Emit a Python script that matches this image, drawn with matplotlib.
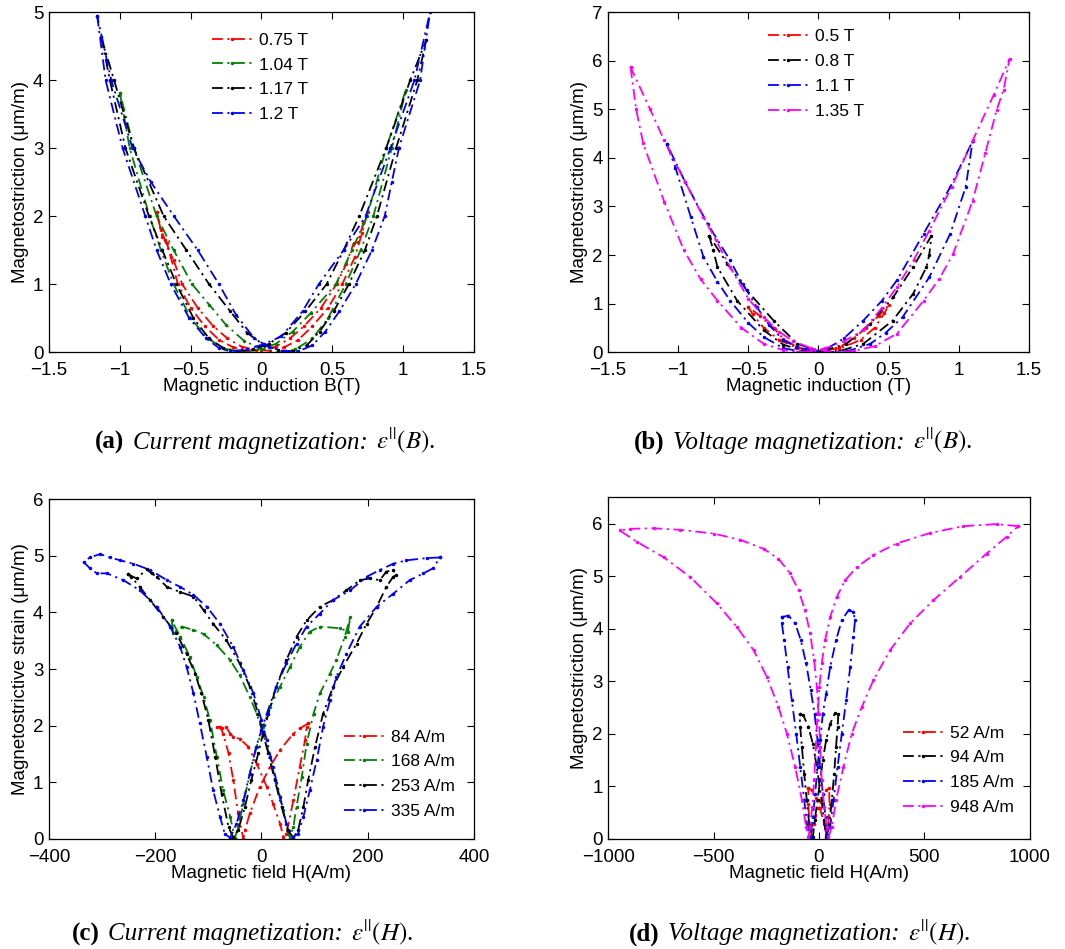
import matplotlib
matplotlib.use("Agg")
import matplotlib.pyplot as plt
from matplotlib.offsetbox import TextArea, HPacker, AnchoredOffsetbox

plt.rcParams['font.family'] = ['Liberation Sans', 'DejaVu Sans']
plt.rcParams['mathtext.fontset'] = 'stix'

# ---------------- (a) current magnetization, strain vs B ----------------
a_labels = ['0.75 T', '1.04 T', '1.17 T', '1.2 T']
a_B_075 = [-0.74, -0.71, -0.68, -0.64, -0.59, -0.5, -0.4, -0.3, -0.2, -0.1, 0.0, 0.1, 0.2, 0.3, 0.42, 0.53, 0.6, 0.65, 0.68, 0.72, 0.75,
           0.71, 0.66, 0.57, 0.47, 0.36, 0.26, 0.16, 0.06, -0.04, -0.14, -0.24, -0.34, -0.45, -0.56, -0.62, -0.67, -0.70, -0.74]
a_e_075 = [2.06, 1.8, 1.65, 1.4, 1.0, 0.65, 0.38, 0.18, 0.07, 0.02, 0.03, 0.08, 0.2, 0.38, 0.65, 1.0, 1.3, 1.6, 1.62, 1.9, 2.06,
           1.75, 1.4, 1.0, 0.65, 0.38, 0.18, 0.07, 0.02, 0.03, 0.08, 0.2, 0.38, 0.65, 1.0, 1.35, 1.6, 1.7, 2.06]
a_B_104 = [-1.0, -0.93, -0.79, -0.71, -0.62, -0.5, -0.38, -0.26, -0.12, 0.0, 0.1, 0.22, 0.35, 0.525, 0.64, 0.745, 0.88, 1.02,
           0.92, 0.79, 0.70, 0.595, 0.47, 0.36, 0.24, 0.12, 0.0, -0.12, -0.25, -0.37, -0.49, -0.62, -0.74, -0.9, -1.0]
a_e_104 = [3.82, 3.0, 2.0, 1.5, 1.0, 0.5, 0.2, 0.05, 0.0, 0.05, 0.12, 0.3, 0.58, 1.0, 1.5, 2.0, 3.0, 3.86,
           3.0, 2.0, 1.5, 1.0, 0.5, 0.2, 0.04, 0.0, 0.05, 0.16, 0.4, 0.7, 1.0, 1.5, 2.0, 3.0, 3.82]
a_B_117 = [-1.13, -1.07, -0.96, -0.794, -0.70, -0.60, -0.48, -0.37, -0.27, -0.17, -0.06, 0.05, 0.17, 0.31, 0.46, 0.58, 0.69, 0.88, 1.05, 1.165,
           1.10, 0.95, 0.815, 0.73, 0.617, 0.51, 0.41, 0.32, 0.22, 0.12, 0.02, -0.1, -0.22, -0.37, -0.53, -0.69, -0.9, -1.04, -1.13]
a_e_117 = [4.63, 4.0, 3.0, 2.0, 1.5, 1.0, 0.5, 0.2, 0.06, 0.01, 0.04, 0.12, 0.28, 0.6, 1.0, 1.5, 2.0, 3.0, 4.0, 4.6,
           4.0, 3.0, 2.0, 1.5, 1.0, 0.6, 0.3, 0.1, 0.01, 0.03, 0.1, 0.28, 0.6, 1.0, 1.5, 2.0, 3.0, 4.0, 4.63]
a_B_120 = [-1.16, -1.10, -0.98, -0.82, -0.74, -0.64, -0.51, -0.39, -0.3, -0.22, -0.1, 0.02, 0.14, 0.29, 0.405, 0.58, 0.735, 0.91, 1.08, 1.19,
           1.12, 0.97, 0.92, 0.87, 0.78, 0.665, 0.55, 0.45, 0.36, 0.26, 0.15, 0.05, -0.05, -0.18, -0.30, -0.45, -0.618, -0.78, -0.91, -1.06, -1.16]
a_e_120 = [4.95, 4.0, 3.0, 2.0, 1.5, 1.0, 0.5, 0.2, 0.06, 0.01, 0.04, 0.12, 0.23, 0.6, 1.0, 1.5, 2.0, 3.0, 4.0, 5.0,
           4.0, 3.0, 2.5, 2.0, 1.5, 1.0, 0.6, 0.3, 0.1, 0.01, 0.02, 0.08, 0.2, 0.55, 1.0, 1.5, 2.0, 2.5, 3.0, 4.0, 4.95]

# ---------------- (b) voltage magnetization, strain vs B ----------------
b_labels = ['0.5 T', '0.8 T', '1.1 T', '1.35 T']
b_B_050 = [-0.50, -0.47, -0.39, -0.28, -0.15, 0.0, 0.15, 0.25, 0.34, 0.43, 0.50,
           0.47, 0.40, 0.3, 0.15, 0.0, -0.15, -0.25, -0.32, -0.42, -0.50]
b_e_050 = [0.93, 0.78, 0.5, 0.25, 0.08, 0.03, 0.1, 0.28, 0.5, 0.75, 0.96,
           0.8, 0.5, 0.25, 0.07, 0.03, 0.1, 0.27, 0.5, 0.75, 0.93]
b_B_080 = [-0.78, -0.75, -0.72, -0.58, -0.39, -0.25, -0.1, 0.05, 0.2, 0.367, 0.533, 0.675, 0.806,
           0.79, 0.77, 0.675, 0.53, 0.32, 0.15, 0.0, -0.15, -0.32, -0.51, -0.65, -0.78]
b_e_080 = [2.40, 2.1, 1.75, 1.06, 0.45, 0.15, 0.02, 0.04, 0.17, 0.58, 1.13, 1.75, 2.40,
           2.0, 1.75, 1.2, 0.65, 0.17, 0.02, 0.02, 0.17, 0.65, 1.27, 1.82, 2.40]
b_B_110 = [-1.08, -1.02, -0.91, -0.82, -0.72, -0.63, -0.5, -0.39, -0.25, -0.1, 0.05, 0.18, 0.32, 0.45, 0.56, 0.75, 0.94, 1.10,
           1.05, 0.94, 0.79, 0.60, 0.48, 0.37, 0.22, 0.08, -0.05, -0.15, -0.25, -0.35, -0.44, -0.54, -0.63, -0.79, -0.95, -1.08]
b_e_110 = [4.28, 3.8, 2.78, 1.96, 1.45, 1.06, 0.6, 0.31, 0.08, 0.0, 0.05, 0.28, 0.65, 1.05, 1.48, 2.44, 3.4, 4.35,
           3.4, 2.44, 1.54, 0.72, 0.4, 0.17, 0.03, 0.0, 0.03, 0.1, 0.24, 0.55, 0.93, 1.4, 1.89, 2.64, 3.5, 4.28]
b_B_135 = [-1.34, -1.30, -1.25, -1.10, -0.96, -0.84, -0.72, -0.55, -0.39, -0.25, -0.15, -0.05, 0.05, 0.18, 0.32, 0.45, 0.56, 0.68, 0.79, 0.95, 1.10, 1.25, 1.363,
           1.32, 1.27, 1.19, 1.10, 0.96, 0.86, 0.75, 0.56, 0.40, 0.25, 0.15, 0.05, -0.05, -0.18, -0.28, -0.39, -0.5, -0.63, -0.73, -0.82, -0.95, -1.10, -1.20, -1.34]
b_e_135 = [5.87, 5.0, 4.3, 3.1, 2.1, 1.5, 1.06, 0.5, 0.17, 0.04, 0.0, 0.02, 0.08, 0.22, 0.45, 0.9, 1.34, 1.9, 2.5, 3.4, 4.36, 5.3, 6.04,
           5.4, 4.98, 4.1, 3.12, 2.02, 1.5, 1.06, 0.38, 0.12, 0.02, 0.0, 0.02, 0.08, 0.22, 0.42, 0.72, 1.1, 1.75, 2.3, 2.78, 3.5, 4.36, 5.0, 5.87]

# ---------------- (c) current magnetization, strain vs H ----------------
c_labels = ['84 A/m', '168 A/m', '253 A/m', '335 A/m']
c_H_84 = [88, 72, 60, 35, 16, -3, -22, -31, -34, -44, -53, -62, -72, -78, -84,
          -75, -66, -59, -53, -41, -25, -9, 10, 22, 35, 41, 47, 60, 72, 82, 85, 88]
c_e_84 = [2.04, 1.95, 1.86, 1.57, 1.27, 0.92, 0.45, 0.15, 0.0, 0.45, 1.04, 1.51, 1.86, 1.98, 1.98,
          1.95, 1.97, 1.86, 1.80, 1.77, 1.63, 1.33, 0.92, 0.62, 0.27, 0.04, 0.09, 0.68, 1.27, 1.74, 1.98, 2.04]
c_H_168 = [-169, -166, -150, -128, -109, -84, -59, -41, -22, -9, 3, 16, 28, 41, 50, 54, 60, 66, 76, 85, 98, 110, 129, 141, 157, 167,
           163, 148, 110, 91, 72, 54, 35, 16, 3, -9, -22, -34, -44, -50, -59, -72, -84, -97, -109, -122, -135, -153, -169]
c_e_168 = [3.86, 3.63, 3.75, 3.69, 3.62, 3.42, 3.16, 2.89, 2.51, 2.21, 1.86, 1.45, 0.98, 0.51, 0.09, 0.02, 0.21, 0.57, 1.10, 1.68, 2.21, 2.57, 2.92, 3.16, 3.57, 3.92,
           3.66, 3.72, 3.75, 3.66, 3.39, 3.04, 2.69, 2.33, 1.98, 1.63, 1.15, 0.62, 0.21, 0.02, 0.39, 0.86, 1.45, 2.10, 2.51, 2.86, 3.22, 3.57, 3.86]
c_H_253 = [-251, -235, -216, -207, -197, -178, -153, -128, -109, -91, -66, -41, -22, -6, 3, 13, 25, 38, 50, 60, 69, 79, 88, 101, 116, 135, 154, 179, 198, 217, 235, 248, 254,
           248, 235, 223, 204, 185, 160, 135, 110, 85, 66, 47, 28, 13, 3, -6, -19, -31, -44, -53, -62, -75, -87, -100, -113, -125, -141, -160, -185, -210, -229, -245, -251]
c_e_253 = [4.67, 4.60, 4.76, 4.69, 4.63, 4.45, 4.36, 4.28, 4.04, 3.80, 3.51, 3.10, 2.69, 2.21, 1.86, 1.51, 1.04, 0.57, 0.15, 0.02, 0.15, 0.57, 1.04, 1.63, 2.21, 2.69, 3.04, 3.45, 3.80, 4.10, 4.45, 4.63, 4.66,
           4.75, 4.72, 4.57, 4.60, 4.57, 4.39, 4.22, 4.10, 3.86, 3.57, 3.16, 2.69, 2.21, 1.86, 1.51, 1.04, 0.57, 0.15, 0.02, 0.21, 0.80, 1.45, 2.10, 2.57, 2.92, 3.27, 3.63, 3.92, 4.22, 4.45, 4.63, 4.67]
c_H_335 = [336, 311, 273, 248, 223, 198, 167, 135, 110, 85, 66, 47, 28, 10, 0, -10, -22, -34, -47, -59, -69, -78, -91, -103, -116, -128, -141, -153, -172, -197, -229, -260, -291, -310, -323, -335,
           -323, -304, -285, -266, -241, -210, -178, -153, -128, -103, -78, -53, -34, -15, 0, 10, 22, 35, 47, 60, 69, 79, 91, 104, 116, 129, 141, 160, 185, 217, 248, 279, 305, 323, 336]
c_e_335 = [4.97, 4.96, 4.92, 4.86, 4.75, 4.63, 4.39, 4.22, 3.98, 3.75, 3.45, 3.10, 2.69, 2.21, 1.92, 1.63, 1.15, 0.68, 0.27, 0.02, 0.09, 0.39, 0.86, 1.45, 2.04, 2.57, 3.04, 3.39, 3.75, 4.10, 4.39, 4.57, 4.69, 4.69, 4.78, 4.89,
           4.97, 5.03, 4.97, 4.92, 4.86, 4.75, 4.57, 4.45, 4.31, 4.10, 3.80, 3.39, 2.98, 2.57, 2.10, 1.74, 1.27, 0.74, 0.27, 0.04, 0.09, 0.39, 0.86, 1.39, 1.98, 2.45, 2.86, 3.27, 3.75, 4.10, 4.33, 4.57, 4.69, 4.78, 4.97]

# ---------------- (d) voltage magnetization, strain vs H ----------------
d_labels = ['52 A/m', '94 A/m', '185 A/m', '948 A/m']
d_H_52 = [-50, -34, -13, 5, 24, 37, 45, 50, 48,
          34, 15, -4, -23, -34, -45, -51, -50]
d_e_52 = [0.96, 0.93, 0.77, 0.58, 0.29, 0.03, 0.29, 0.67, 0.96,
          0.93, 0.77, 0.58, 0.29, 0.03, 0.29, 0.67, 0.96]
d_H_94 = [-92, -74, -50, -29, -13, -1, 12, 24, 34, 48, 61, 72, 81, 88, 92,
          77, 53, 34, 18, 6, -7, -20, -29, -45, -58, -70, -81, -89, -92]
d_e_94 = [2.38, 2.35, 2.13, 1.81, 1.43, 1.12, 0.74, 0.36, 0.03, 0.23, 0.74, 1.24, 1.75, 2.13, 2.38,
          2.40, 2.19, 1.88, 1.50, 1.12, 0.74, 0.36, 0.03, 0.23, 0.74, 1.24, 1.75, 2.13, 2.38]
d_H_185 = [-176, -145, -113, -86, -61, -39, -21, -7, 6, 18, 31, 40, 53, 69, 88, 108, 129, 148, 163, 171, 163,
           140, 108, 81, 53, 34, 18, 6, -7, -18, -29, -39, -55, -70, -89, -108, -129, -149, -165, -176, -176]
d_e_185 = [4.22, 4.25, 4.10, 3.78, 3.34, 2.83, 2.38, 1.88, 1.37, 0.86, 0.42, 0.03, 0.23, 0.74, 1.37, 2.00, 2.64, 3.27, 3.84, 4.16, 4.32,
           4.35, 4.16, 3.78, 3.27, 2.76, 2.38, 1.88, 1.37, 0.86, 0.42, 0.03, 0.23, 0.74, 1.37, 2.00, 2.64, 3.27, 3.78, 4.10, 4.22]
d_H_948 = [945, 842, 684, 526, 368, 258, 179, 124, 84, 53, 29, 13, 2, -7, -15, -23, -32, -42, -50, -61, -81, -113, -152, -192, -247, -310, -389, -484, -610, -737, -863, -945,
           -895, -784, -657, -500, -373, -263, -192, -137, -97, -66, -42, -23, -10, -2, 6, 13, 24, 37, 45, 61, 81, 116, 155, 203, 258, 337, 432, 542, 668, 795, 890, 945]
d_e_948 = [5.95, 5.99, 5.95, 5.82, 5.62, 5.40, 5.17, 4.92, 4.60, 4.22, 3.78, 3.34, 2.89, 2.38, 1.75, 1.12, 0.61, 0.23, 0.03, 0.23, 0.74, 1.37, 2.00, 2.51, 3.08, 3.59, 4.03, 4.48, 4.98, 5.36, 5.65, 5.87,
           5.90, 5.91, 5.88, 5.81, 5.69, 5.52, 5.33, 5.05, 4.73, 4.35, 3.91, 3.40, 2.89, 2.38, 1.75, 1.12, 0.61, 0.23, 0.03, 0.23, 0.74, 1.37, 2.00, 2.51, 3.02, 3.59, 4.10, 4.54, 4.98, 5.43, 5.75, 5.95]

RED, GREEN, BLACK, BLUE, MAG = '#ff0000', '#008000', '#000000', '#0000ff', '#ff00ff'
FS = 13.5
LEG_FS = 12.5
DASHDOT = (0, (6, 2.5, 1.2, 2.5))

fig = plt.figure(figsize=(10.65, 9.49), dpi=100)


def make_axes(rect, xlim, ylim, xticks, yticks, xlabel, ylabel):
    ax = fig.add_axes(rect)
    ax.set_xlim(*xlim)
    ax.set_ylim(*ylim)
    ax.set_xticks(xticks)
    ax.set_yticks(yticks)
    ax.tick_params(direction='in', top=True, right=True, length=5, width=0.8, labelsize=FS)
    ax.tick_params(axis='x', pad=7.5)
    ax.tick_params(axis='y', pad=4)
    ax.set_xlabel(xlabel, fontsize=FS, labelpad=-1)
    ax.set_ylabel(ylabel, fontsize=FS, labelpad=3)
    for s in ax.spines.values():
        s.set_linewidth(0.9)
    return ax


def draw_loops(ax, loops, labels, colors):
    for (x, y), lab, col in zip(loops, labels, colors):
        ax.plot(x, y, color=col, linestyle=DASHDOT, lw=1.3, marker='.', markersize=3, label=lab)


def add_legend(ax, anchor):
    ax.legend(loc='upper left', bbox_to_anchor=anchor, frameon=False, fontsize=LEG_FS,
              handlelength=2.3, handletextpad=0.4, labelspacing=0.55, borderpad=0, borderaxespad=0)


def add_caption(x, y, tag, kind, var):
    serif = ['Liberation Serif', 'DejaVu Serif']
    parts = [TextArea('(%s)' % tag, textprops=dict(family=serif, weight='bold', size=18)),
             TextArea('%s magnetization:' % kind, textprops=dict(family=serif, style='italic', size=18)),
             TextArea(r'$\varepsilon^{||}(%s)$.' % var, textprops=dict(family=serif, size=18))]
    box = HPacker(children=parts, align='baseline', pad=0, sep=6)
    anch = AnchoredOffsetbox(loc='center', child=box, pad=0, borderpad=0, frameon=False,
                             bbox_to_anchor=(x, y), bbox_transform=fig.transFigure)
    fig.add_artist(anch)


# (a)
ax = make_axes([0.046, 0.629, 0.399, 0.358], (-1.5, 1.5), (0, 5),
               [-1.5, -1, -0.5, 0, 0.5, 1, 1.5], [0, 1, 2, 3, 4, 5],
               'Magnetic induction B(T)', 'Magnetostriction (\u03bcm/m)')
ax.set_xticklabels(['\u22121.5', '\u22121', '\u22120.5', '0', '0.5', '1', '1.5'])
draw_loops(ax, [(a_B_075, a_e_075), (a_B_104, a_e_104), (a_B_117, a_e_117), (a_B_120, a_e_120)],
           a_labels, [RED, GREEN, BLACK, BLUE])
add_legend(ax, (0.384, 0.94))

# (b)
ax = make_axes([0.571, 0.629, 0.395, 0.358], (-1.5, 1.5), (0, 7),
               [-1.5, -1, -0.5, 0, 0.5, 1, 1.5], [0, 1, 2, 3, 4, 5, 6, 7],
               'Magnetic induction (T)', 'Magnetostriction (\u03bcm/m)')
ax.set_xticklabels(['\u22121.5', '\u22121', '\u22120.5', '0', '0.5', '1', '1.5'])
draw_loops(ax, [(b_B_050, b_e_050), (b_B_080, b_e_080), (b_B_110, b_e_110), (b_B_135, b_e_135)],
           b_labels, [RED, BLACK, BLUE, MAG])
add_legend(ax, (0.38, 0.95))

# (c)
ax = make_axes([0.046, 0.116, 0.399, 0.358], (-400, 400), (0, 6),
               [-400, -200, 0, 200, 400], [0, 1, 2, 3, 4, 5, 6],
               'Magnetic field H(A/m)', 'Magnetostrictive strain (\u03bcm/m)')
draw_loops(ax, [(c_H_84, c_e_84), (c_H_168, c_e_168), (c_H_253, c_e_253), (c_H_335, c_e_335)],
           c_labels, [RED, GREEN, BLACK, BLUE])
add_legend(ax, (0.694, 0.322))

# (d)
ax = make_axes([0.571, 0.116, 0.396, 0.360], (-1000, 1000), (0, 6.5),
               [-1000, -500, 0, 500, 1000], [0, 1, 2, 3, 4, 5, 6],
               'Magnetic field H(A/m)', 'Magnetostriction (\u03bcm/m)')
ax.set_xticklabels(['\u22121000', '\u2212500', '0', '500', '1000'])
draw_loops(ax, [(d_H_52, d_e_52), (d_H_94, d_e_94), (d_H_185, d_e_185), (d_H_948, d_e_948)],
           d_labels, [RED, BLACK, BLUE, MAG])
add_legend(ax, (0.699, 0.332))

# captions
add_caption(0.249, 0.536, 'a', 'Current', 'B')
add_caption(0.754, 0.536, 'b', 'Voltage', 'B')
add_caption(0.228, 0.018, 'c', 'Current', 'H')
add_caption(0.751, 0.018, 'd', 'Voltage', 'H')

fig.savefig('out.png', dpi=100)
